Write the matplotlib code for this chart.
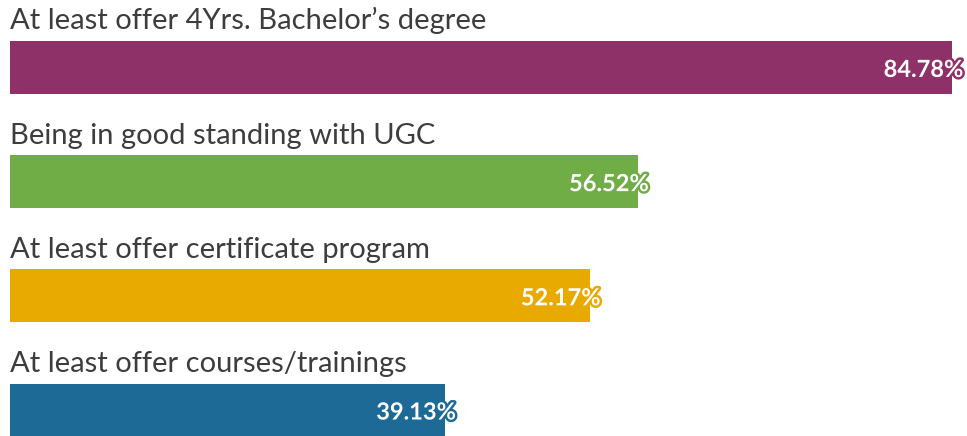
import matplotlib.pyplot as plt
import matplotlib.patheffects as pe

labels = ["At least offer 4Yrs. Bachelor\u2019s degree",
          "Being in good standing with UGC",
          "At least offer certificate program",
          "At least offer courses/trainings"]
values = [84.78, 56.52, 52.17, 39.13]
colors = ["#8e3169", "#70ad47", "#e9aa00", "#1d6a96"]

fig = plt.figure(figsize=(9.67, 4.36), dpi=100)
ax = fig.add_axes([0, 0, 1, 1])

px_per_unit = 11.11
step = 114.3
ys = list(range(len(values)))
ax.barh(ys, values, height=53 / step, color=colors, left=0)

for y, lab, v, c in zip(ys, labels, values, colors):
    ax.text(0, y - 38 / step, lab, ha="left", va="baseline",
            fontsize=21, color="#3d3d3d", family="Lato")
    t = ax.text(v + 1.0, y, f"{v:.2f}%", ha="right", va="center_baseline",
                fontsize=17, fontweight="bold", color="white", family="Lato")
    t.set_path_effects([pe.withStroke(linewidth=3.5, foreground=c)])

ax.set_xlim(-10 / px_per_unit, 957 / px_per_unit)
ax.set_ylim(3 + (436 - 410) / step, -67.5 / step)
ax.axis("off")

fig.savefig("out.png", dpi=100)
